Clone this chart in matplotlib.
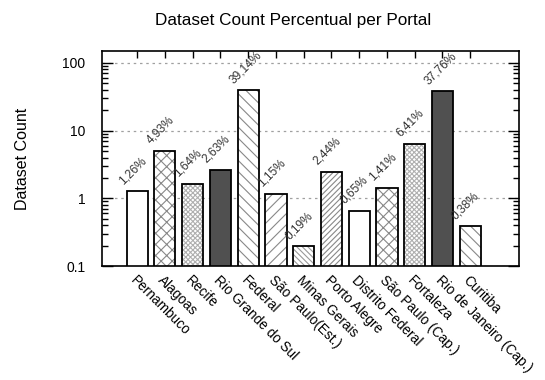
import matplotlib
matplotlib.use("Agg")
import matplotlib.pyplot as plt
from matplotlib.ticker import FixedLocator, LogLocator, NullFormatter
import numpy as np

plt.rcParams["font.family"] = ["Liberation Sans", "DejaVu Sans"]
plt.rcParams["hatch.linewidth"] = 0.8

# Datos
portals = ["Pernambuco", "Alagoas", "Recife", "Rio Grande do Sul", "Federal",
           "São Paulo(Est.)", "Minas Gerais", "Porto Alegre", "Distrito Federal",
           "São Paulo (Cap.)", "Fortaleza", "Rio de Janeiro (Cap.)", "Curitiba"]
percent = [1.26, 4.93, 1.64, 2.63, 39.14, 1.15, 0.19, 2.44, 0.65, 1.41, 6.41, 37.76, 0.38]
labels = ["1,26%", "4,93%", "1,64%", "2,63%", "39,14%", "1,15%", "0,19%",
          "2,44%", "0,65%", "1,41%", "6,41%", "37,76%", "0,38%"]

# estilos de relleno (ciclo de 8 como gnuplot): color, trama, color de trama
fills = [("white", None, "#888888"), ("white", "xxx", "#888888"),
         ("white", "xxxxxxx", "#b0b0b0"), ("#505050", None, "#888888"),
         ("white", "\\\\\\", "#888888"), ("white", "///", "#888888"),
         ("white", "\\\\\\\\\\\\", "#999999"), ("white", "//////", "#888888")]

fig = plt.figure(figsize=(5.45, 3.8), dpi=100)
ax = fig.add_axes([0.187, 0.30, 0.766, 0.566])

x = np.arange(len(portals))
for i in x:
    fc, h, hc = fills[i % 8]
    ax.bar(i, percent[i], width=0.76, bottom=0.01, color=fc, hatch=h,
           edgecolor=hc, linewidth=0, zorder=2)
    ax.bar(i, percent[i], width=0.76, bottom=0.01, fill=False,
           edgecolor="black", linewidth=1.3, zorder=3)
    ax.annotate(labels[i], (i - 0.52, percent[i]), xytext=(0, 5),
                textcoords="offset points", rotation=45, rotation_mode="anchor",
                ha="left", va="baseline", fontsize=8.6, color="#333333")

ax.set_yscale("log")
ax.set_ylim(0.1, 150)
ax.set_xlim(-1.27, 13.77)

ax.yaxis.set_major_locator(FixedLocator([0.1, 1, 10, 100]))
ax.set_yticklabels(["0.1", "1", "10", "100"])
ax.yaxis.set_minor_locator(LogLocator(base=10, subs=np.arange(2, 10)))
ax.yaxis.set_minor_formatter(NullFormatter())
ax.tick_params(axis="y", which="both", direction="in", left=True, right=True,
               labelsize=10, pad=12)
ax.tick_params(axis="y", which="major", length=8, width=1)
ax.tick_params(axis="y", which="minor", length=4, width=1)

ax.set_xticks(x)
ax.set_xticklabels(portals, rotation=-45, ha="left", rotation_mode="anchor", fontsize=9.8)
ax.tick_params(axis="x", which="both", direction="in", bottom=False, top=True,
               labelbottom=True, length=5, width=1, pad=5)
ax.xaxis.set_minor_locator(FixedLocator([]))

ax.grid(axis="y", which="major", linestyle=(0, (2, 3)), color="#a0a0a0", linewidth=0.9, zorder=0)
for s in ax.spines.values():
    s.set_linewidth(1.2)

ax.set_ylabel("Dataset Count", fontsize=11.5, labelpad=23)
fig.suptitle("Dataset Count Percentual per Portal", fontsize=12.3, x=0.537, y=0.965)

plt.savefig("out.png", dpi=100)
